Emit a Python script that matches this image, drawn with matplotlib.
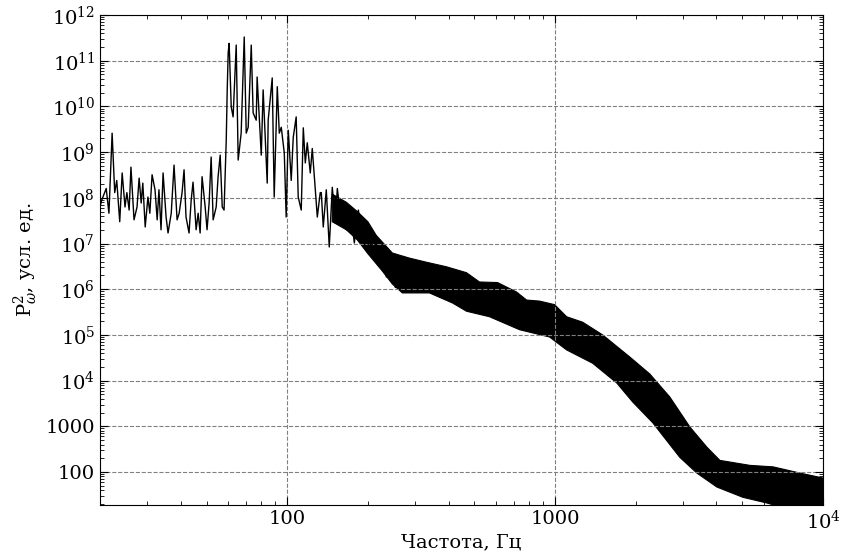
import numpy as np
import matplotlib
matplotlib.use("Agg")
import matplotlib.pyplot as plt  # noqa: E402
from matplotlib.ticker import LogLocator, FuncFormatter, NullFormatter  # noqa: E402

# --- low-frequency part: individual peaks/troughs ---
freq_low = [20.0, 20.3, 21.1, 21.6, 22.2, 22.7, 23.1, 23.7, 24.2, 24.8,
            25.2, 25.7, 26.1, 26.8, 27.5, 28.0, 28.5, 28.9, 29.5, 30.2,
            30.7, 31.3, 32.1, 32.7, 33.2, 33.8, 34.4, 35.3, 35.9, 36.9,
            37.8, 38.8, 39.5, 40.5, 41.2, 41.9, 43.0, 43.8, 44.5, 45.7,
            46.5, 47.3, 48.1, 49.4, 50.2, 51.1, 52.0, 52.9, 54.3, 55.2,
            56.2, 57.2, 58.1, 59.2, 59.7, 60.2, 60.7, 61.8, 62.8, 64.5,
            65.6, 67.3, 69.1, 70.3, 71.5, 73.4, 74.6, 76.6, 77.2, 80.0,
            81.3, 84.2, 84.9, 87.9, 89.4, 91.8, 93.4, 95.0, 97.5, 99.1,
            100.9, 103.5, 105.3, 108.0, 109.9, 112.8, 114.8, 116.8, 118.8, 121.9,
            124.0, 127.3, 129.5, 132.8, 134.0, 136.3, 139.9, 143.5, 147.3, 151.1,
            153.8, 157.8, 160.6, 166.2, 173.5, 178.0, 184.3, 190.7, 197.4, 202.6,
            211.4, 217.0, 226.5, 234.5, 244.8, 253.3]
power_low = [6.3e7, 8.9e7, 1.6e8, 4.6e7, 2.6e9, 1.3e8, 2.4e8, 3.0e7, 3.5e8, 6.3e7,
             1.3e8, 5.4e7, 4.7e8, 3.3e7, 6.3e7, 2.7e8, 7.7e7, 2.1e8, 2.3e7, 1.04e8,
             4.6e7, 3.2e8, 1.5e8, 3.3e7, 1.5e8, 2.0e7, 3.5e8, 3.8e7, 1.7e7, 4.6e7,
             5.2e8, 3.3e7, 4.6e7, 1.3e8, 4.1e8, 3.8e7, 1.7e7, 8.9e7, 2.2e8, 2.0e7,
             4.6e7, 1.7e7, 2.9e8, 6.3e7, 2.0e7, 7.7e7, 7.8e8, 3.3e7, 6.3e7, 2.9e8,
             8.6e8, 6.3e7, 5.4e7, 1.8e9, 2.3e10, 1.5e11, 2.4e11, 9.7e9, 5.9e9, 2.2e11,
             6.7e8, 2.6e9, 3.3e11, 2.6e9, 3.5e9, 2.2e11, 7.2e9, 5.0e9, 4.4e10, 8.6e8,
             2.3e10, 2.1e8, 5.0e9, 4.2e10, 1.04e8, 2.7e10, 2.6e9, 3.5e9, 9.6e8, 3.8e7,
             3.0e9, 2.4e8, 2.1e9, 5.9e9, 1.04e8, 5.4e7, 3.4e9, 5.8e8, 1.6e9, 3.5e8,
             1.2e9, 1.5e8, 3.8e7, 1.3e8, 1.3e8, 2.3e7, 1.5e8, 8.4e6, 1.7e8, 2.8e7,
             1.6e8, 4.6e7, 5.4e7, 2.0e7, 3.8e7, 1.03e7, 5.4e7, 1.4e7, 2.0e7, 6.2e6,
             1.4e7, 3.7e6, 6.2e6, 1.85e6, 3.7e6, 1.1e6]

# --- dense noisy part: upper and lower edges of the band ---
freq_up = [147.3, 166.2, 182.7, 200.0, 215.1, 246.9, 285.8, 330.8, 393.0, 466.9,
           522.0, 609.6, 717.8, 782.6, 875.1, 995.7, 1104, 1267, 1505, 1899,
           2256, 2679, 3184, 3686, 4121, 5335, 6504, 8204, 10000]
power_up = [1.2e8, 8.0e7, 5.0e7, 3.0e7, 1.5e7, 6.2e6, 4.8e6, 3.9e6, 3.1e6, 2.3e6,
            1.44e6, 1.4e6, 8.7e5, 5.8e5, 5.5e5, 4.6e5, 2.5e5, 1.9e5, 1.0e5, 3.3e4,
            1.4e4, 4.4e3, 970, 350, 180, 140, 130, 95, 74]
freq_lo = [147.3, 166.2, 182.7, 200.0, 226.5, 246.9, 269.1, 339.5, 413.9, 466.9,
           569.0, 736.6, 953.7, 1104, 1381, 1698, 1949, 2314, 2920, 3381,
           4016, 5022, 6177, 7527, 10000]
power_lo = [3.0e7, 2.0e7, 1.2e7, 6.0e6, 2.5e6, 1.3e6, 8.3e5, 8.3e5, 5.0e5, 3.3e5,
            2.5e5, 1.3e5, 9.0e4, 4.7e4, 2.4e4, 8.9e3, 3.4e3, 1.2e3, 210, 95,
            47, 28, 21, 15, 15]

plt.rcParams["font.family"] = ["DejaVu Serif"]
plt.rcParams["mathtext.fontset"] = "dejavuserif"


def _log_label(v, pos):
    if v <= 1000:
        return f"{v:g}"
    return rf"$10^{{{int(round(np.log10(v)))}}}$"


fig = plt.figure(figsize=(8.43, 5.6), dpi=100)
ax = fig.add_axes([0.1186, 0.0982, 0.8577, 0.875])

band_f = np.concatenate([freq_up, freq_lo[::-1]])
band_p = np.concatenate([power_up, power_lo[::-1]])
ax.fill(band_f, band_p, color="black", lw=0.8)
ax.plot(freq_low, power_low, color="black", lw=1.0)

ax.set_xscale("log")
ax.set_yscale("log")
ax.set_xlim(20, 1e4)
ax.set_ylim(19, 1e12)

ax.yaxis.set_major_locator(LogLocator(base=10, numticks=20))
ax.yaxis.set_minor_locator(LogLocator(base=10, subs=np.arange(2, 10), numticks=200))
ax.xaxis.set_minor_locator(LogLocator(base=10, subs=np.arange(2, 10), numticks=50))
ax.xaxis.set_major_formatter(FuncFormatter(_log_label))
ax.yaxis.set_major_formatter(FuncFormatter(_log_label))
ax.xaxis.set_minor_formatter(NullFormatter())
ax.yaxis.set_minor_formatter(NullFormatter())

ax.tick_params(which="both", direction="in", top=True, right=True, labelsize=14)
ax.tick_params(which="major", length=6)
ax.tick_params(which="minor", length=3)
ax.grid(True, which="major", linestyle="--", color="gray", lw=0.8)

ax.set_xlabel("Частота, Гц", fontsize=14, labelpad=0)
ax.set_ylabel(r"Р$_{\omega}^{2}$, усл. ед.", fontsize=14)

fig.savefig("out.png", dpi=100)
